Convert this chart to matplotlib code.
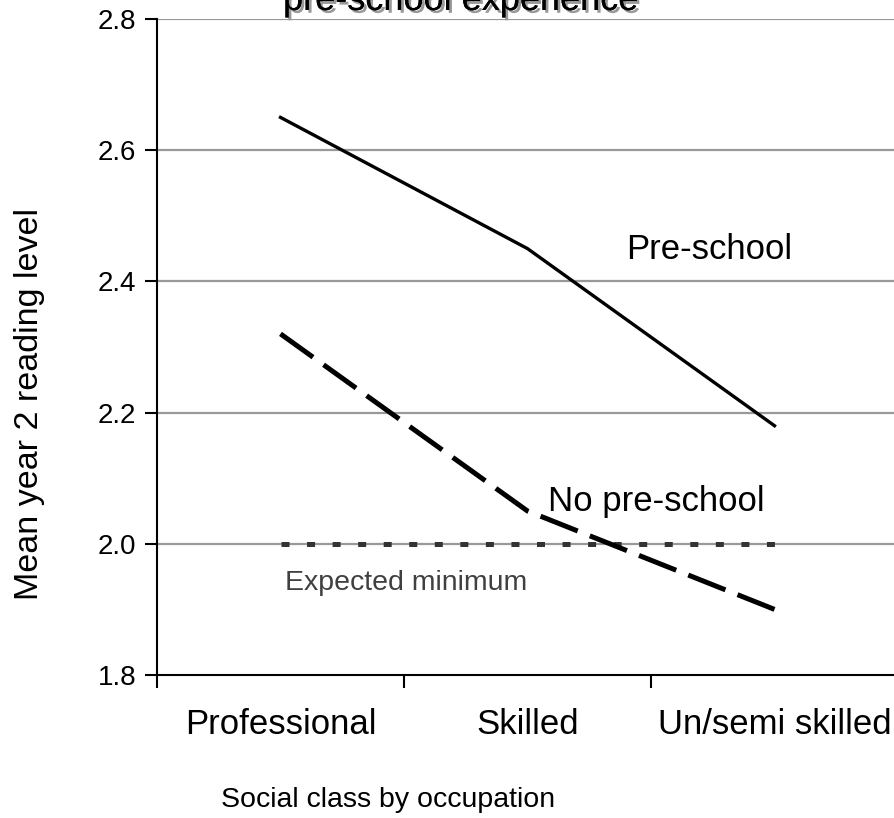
import matplotlib.pyplot as plt
import matplotlib.patheffects as pe

plt.rcParams['font.family'] = ['Liberation Sans', 'DejaVu Sans']

# data
classes = ['Professional', 'Skilled', 'Un/semi skilled']
preschool = [2.65, 2.45, 2.18]
no_preschool = [2.32, 2.05, 1.90]
expected_min = [2.0, 2.0, 2.0]
yticks = [1.8, 2.0, 2.2, 2.4, 2.6, 2.8]

xpos = [i + 0.5 for i in range(len(classes))]

fig = plt.figure(figsize=(8.94, 8.18), dpi=100)
ax = fig.add_axes([157 / 894, 1 - 675 / 818, 741 / 894, 656 / 818])

for y in yticks[1:]:
    ax.axhline(y, color='#999999', lw=1.6, zorder=1)

# square dots, spaced so the last one lands on the end of the line
ax.plot(xpos, expected_min, color='#333333', lw=3.6, dashes=(1.6, 3.51),
        dash_capstyle='butt', zorder=2)
ax.plot(xpos, preschool, color='black', lw=2.4, zorder=3)
ax.plot(xpos, no_preschool, color='black', lw=3.6, dashes=(8, 2.6),
        dash_capstyle='butt', zorder=3)

ax.text(1.90, 2.449, 'Pre-school', fontsize=25, va='center', ha='left')
ax.text(1.583, 2.065, 'No pre-school', fontsize=25, va='center', ha='left')
ax.text(0.518, 1.940, 'Expected minimum', fontsize=20.5, color='#404040',
        va='center', ha='left')

ax.set_xlim(0, 3)
ax.set_ylim(1.8, 2.8)
ax.set_yticks(yticks)
ax.set_yticklabels([f'{v:.1f}' for v in yticks], fontsize=20)
ax.set_xticks([0, 1, 2, 3])
ax.set_xticklabels([])
ax.set_xticks(xpos, minor=True)
ax.set_xticklabels(classes, minor=True, fontsize=25)
ax.tick_params(axis='x', which='minor', length=0, pad=24)
ax.tick_params(axis='both', which='major', length=9, width=1.5, direction='out')
ax.tick_params(axis='y', pad=6)

for s in ['top', 'right']:
    ax.spines[s].set_visible(False)
for s in ['left', 'bottom']:
    ax.spines[s].set_linewidth(1.5)
ax.spines['bottom'].set_zorder(4)

fig.text(388 / 894, 1 - 800 / 818, 'Social class by occupation', fontsize=20.5,
         ha='center', va='center')
fig.text(30 / 894, 1 - 404 / 818, 'Mean year 2 reading level', fontsize=24.5,
         ha='center', va='center', rotation=90)

title = fig.text(283 / 894, 1 - 10 / 818, 'pre-school experience', fontsize=26,
                 ha='left', va='baseline')
title.set_path_effects([pe.withSimplePatchShadow(offset=(2, -2), shadow_rgbFace='#999999', alpha=1),
                        pe.Normal()])

fig.savefig('out.png', dpi=100)
